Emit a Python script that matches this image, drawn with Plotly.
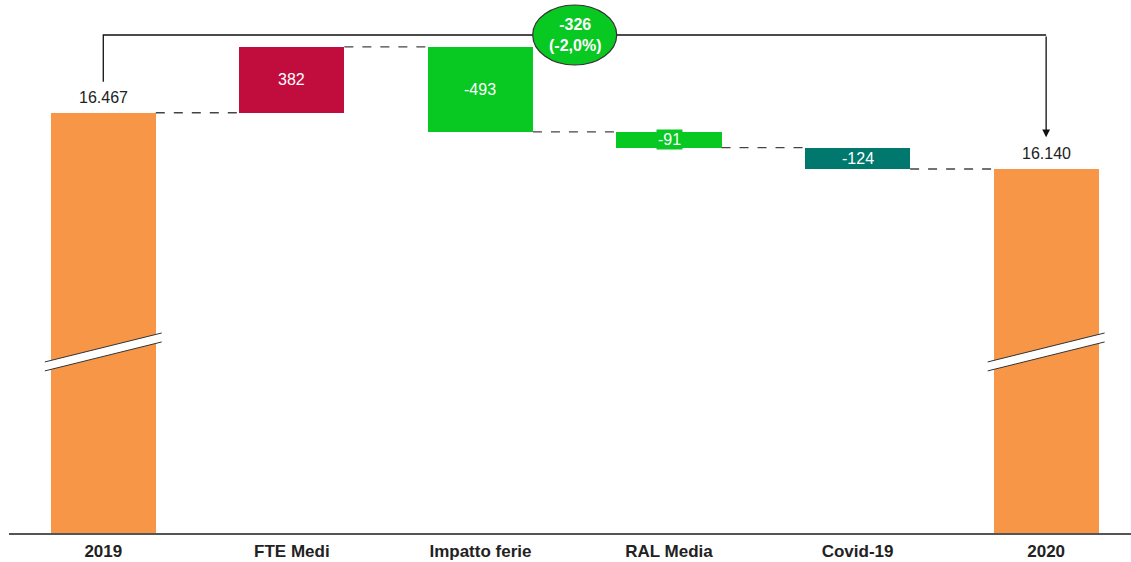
import plotly.graph_objects as go

# dati
categories = ["2019", "FTE Medi", "Impatto ferie", "RAL Media", "Covid-19", "2020"]
start_value = 16467
end_value = 16140
deltas = [382, -493, -91, -124]
delta_colors = ["#C00D3D", "#08C822", "#08C822", "#00786E"]
change_text = "<b>-326<br>(-2,0%)</b>"

ORANGE = "#F79646"
FONT = "Liberation Sans, Arial, sans-serif"
Y_MIN, Y_MAX = 14030, 17121
BAR_W = 0.557


def fmt(v):
    return f"{v:,}".replace(",", ".")


fig = go.Figure()

# colonne totali (asse spezzato: partono da 0 e vengono tagliate dal range)
fig.add_trace(go.Bar(
    x=[0, 5], y=[start_value, end_value],
    marker=dict(color=ORANGE, line=dict(width=0)), width=BAR_W,
    hoverinfo="y", showlegend=False,
))

# variazioni flottanti
bases, level = [], start_value
for d in deltas:
    bases.append(level if d > 0 else level + d)
    level += d
fig.add_trace(go.Bar(
    x=list(range(1, len(deltas) + 1)), y=[abs(d) for d in deltas], base=bases,
    marker=dict(color=delta_colors, line=dict(width=0)), width=BAR_W,
    hoverinfo="skip", showlegend=False,
))

# connettori tratteggiati
levels = [start_value]
for d in deltas:
    levels.append(levels[-1] + d)
for i, lv in enumerate(levels):
    fig.add_shape(type="line", x0=i + BAR_W / 2, x1=i + 1 - BAR_W / 2, y0=lv, y1=lv,
                  line=dict(color="#444", width=1.3, dash="dash"))

# etichette
for i, d in enumerate(deltas):
    mid = bases[i] + abs(d) / 2
    fig.add_annotation(x=i + 1, y=mid, text=str(d), showarrow=False,
                       font=dict(family=FONT, size=16, color="white"),
                       bgcolor=delta_colors[i], borderpad=1)
for i, v in [(0, start_value), (5, end_value)]:
    fig.add_annotation(x=i, y=v, text=fmt(v), showarrow=False, yanchor="bottom", yshift=5,
                       font=dict(family=FONT, size=16, color="#222"))

# segni di interruzione sulle colonne totali
for i in (0, 5):
    x0, x1 = i - 0.31, i + 0.31
    lo0, lo1, up0, up1 = 14970, 15138, 15022, 15190
    fig.add_shape(type="path", path=f"M {x0},{lo0} L {x1},{lo1} L {x1},{up1} L {x0},{up0} Z",
                  fillcolor="white", line=dict(width=0))
    fig.add_shape(type="line", x0=x0, x1=x1, y0=lo0, y1=lo1, line=dict(color="#333", width=1))
    fig.add_shape(type="line", x0=x0, x1=x1, y0=up0, y1=up1, line=dict(color="#333", width=1))

# parentesi con freccia
top = 16918
fig.add_shape(type="path",
              path=f"M 0,{start_value + 180} L 0,{top} L 5,{top}",
              line=dict(color="#111", width=1.3))
fig.add_annotation(x=5, y=end_value + 185, ax=5, ay=top, axref="x", ayref="y",
                   xref="x", yref="y", text="", showarrow=True,
                   arrowhead=2, arrowsize=1.2, arrowwidth=1.3, arrowcolor="#111")
fig.add_shape(type="circle", xref="x", yref="y", xsizemode="pixel", ysizemode="pixel",
              xanchor=2.5, yanchor=top, x0=-42, x1=42, y0=-30, y1=30,
              fillcolor="#08C822", line=dict(color="#333", width=1.2))
fig.add_annotation(x=2.5, y=top, text=change_text, showarrow=False,
                   font=dict(family=FONT, size=16, color="white"))

fig.update_layout(
    width=1131, height=562,
    paper_bgcolor="white", plot_bgcolor="white",
    margin=dict(l=9, r=0, t=0, b=29),
    bargap=0, showlegend=False,
    xaxis=dict(range=[-0.5, 5.45], showgrid=False, automargin=False, zeroline=False,
               showline=True, linecolor="#555", linewidth=2, ticks="",
               ticklabelstandoff=2,
               tickfont=dict(family=FONT, size=17, color="#222"),
               tickvals=list(range(len(categories))),
               ticktext=[f"<b>{c}</b>" for c in categories]),
    yaxis=dict(range=[Y_MIN, Y_MAX], visible=False, showgrid=False, zeroline=False),
)

fig.write_html("out.html", config={"displayModeBar": False},
               post_script="document.body.style.margin='0';")
